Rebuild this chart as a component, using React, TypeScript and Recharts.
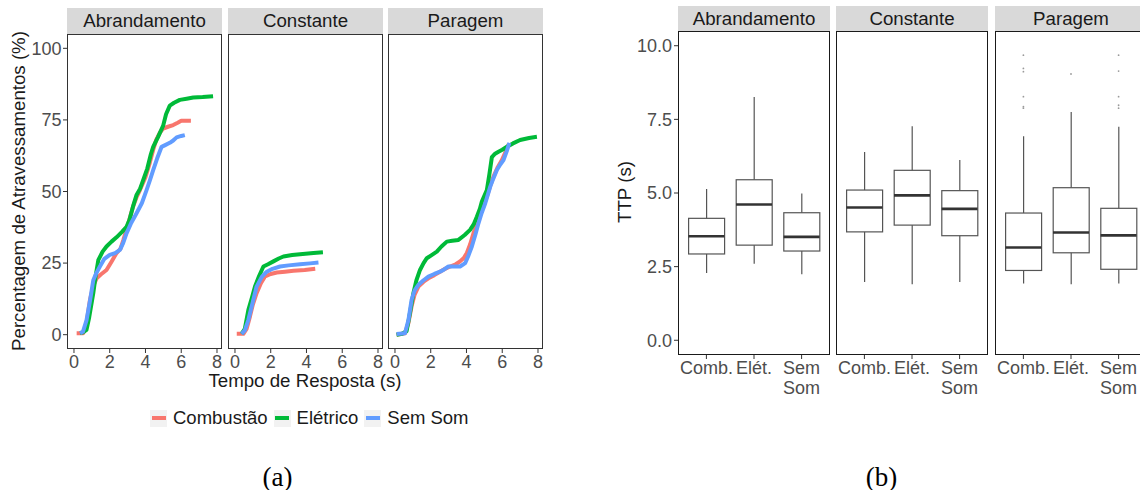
import React from 'react'
import { LineChart, Line, XAxis, YAxis, ComposedChart, Bar, Scatter } from 'recharts'

// facetas e séries
const FACETS = ['Abrandamento', 'Constante', 'Paragem']
const SERIES = ['Combustão', 'Elétrico', 'Sem Som']
const SERIES_COLORS = ['#F8766D', '#00BA38', '#619CFF']
const X_TICKS = [0, 2, 4, 6, 8]
const PCT_TICKS = [0, 25, 50, 75, 100]
const TTP_TICKS = [0, 2.5, 5, 7.5, 10]
const BOX_CATS = ['Comb.', 'Elét.', 'Sem\nSom']

// (a) curvas acumuladas: [tempo (s), percentagem (%)]
const abrCombustao = [[0.15, 0.5], [0.52, 0.5], [0.7, 4], [0.89, 12], [1.08, 17], [1.27, 19.7], [1.5, 21], [1.82, 22.6], [2.1, 25.5], [2.38, 28.5], [2.6, 30], [2.76, 33], [3.0, 38], [3.3, 44.7], [3.5, 48], [3.69, 50.5], [4.0, 55], [4.24, 60], [4.45, 65], [4.6, 68], [4.8, 70.5], [4.99, 72], [5.3, 72.7], [5.55, 73.2], [5.8, 74], [6.0, 74.7], [6.54, 74.7]]
const abrEletrico = [[0.34, 0.6], [0.5, 0.8], [0.7, 1.7], [0.85, 6], [1.08, 14.5], [1.2, 20], [1.36, 26], [1.6, 29], [1.82, 30.8], [2.1, 32.5], [2.38, 34], [2.7, 36], [2.94, 37.7], [3.1, 40], [3.3, 44.7], [3.5, 48.8], [3.7, 51], [3.87, 54], [4.1, 58], [4.3, 63], [4.43, 65.6], [4.7, 69], [4.99, 73], [5.15, 77], [5.36, 80], [5.6, 81], [5.92, 82], [6.3, 82.4], [6.67, 82.8], [7.2, 83], [7.78, 83.3]]
const abrSemSom = [[0.34, 0.5], [0.5, 1], [0.7, 5], [0.9, 12], [1.08, 19], [1.25, 21.5], [1.45, 23.8], [1.7, 26.5], [2.0, 27.9], [2.3, 28.5], [2.57, 29.6], [2.75, 32], [2.94, 35.4], [3.2, 39], [3.5, 42.4], [3.8, 46], [4.06, 50.5], [4.25, 54], [4.43, 57.5], [4.65, 61.5], [4.9, 65.6], [5.1, 66.2], [5.36, 67], [5.55, 67.8], [5.74, 68.9], [6.0, 69.4], [6.2, 69.7]]

const conCombustao = [[0.1, 0.3], [0.47, 0.3], [0.65, 2], [0.84, 6.4], [1.0, 10.5], [1.21, 14.5], [1.45, 18], [1.68, 20.3], [2.0, 21.2], [2.34, 21.7], [2.8, 22], [3.27, 22.3], [3.9, 22.6], [4.49, 23]]
const conEletrico = [[0.37, 0.3], [0.55, 2], [0.75, 8.7], [0.95, 13], [1.12, 16.8], [1.35, 20.5], [1.59, 23.8], [1.85, 24.6], [2.15, 25.6], [2.45, 26.6], [2.71, 27.3], [3.2, 27.8], [3.64, 28.1], [4.39, 28.5], [4.92, 28.8]]
const conSemSom = [[0.37, 0.3], [0.55, 1.5], [0.75, 5.2], [1.0, 11.5], [1.21, 16.8], [1.5, 20.2], [1.78, 22], [2.1, 23], [2.52, 23.8], [3.0, 24.2], [3.64, 24.6], [4.2, 24.9], [4.67, 25.2]]

const parCombustao = [[0.09, 0], [0.56, 0.5], [0.75, 4], [0.93, 9.9], [1.1, 14], [1.31, 16.8], [1.6, 18.5], [1.87, 19.7], [2.2, 20.8], [2.52, 22], [2.8, 23], [3.08, 23.8], [3.4, 24.6], [3.64, 25.6], [3.85, 26.8], [4.02, 28.5], [4.2, 31.5], [4.39, 35.4], [4.6, 39], [4.77, 42.4], [4.95, 45.5], [5.14, 48.2], [5.33, 52], [5.51, 55.2], [5.75, 58.5], [5.98, 61], [6.2, 64], [6.36, 66.5]]
const parEletrico = [[0.09, 0], [0.4, 0.3], [0.65, 1.2], [0.85, 8], [1.03, 14.5], [1.2, 19], [1.4, 22.6], [1.6, 25], [1.78, 26.7], [2.05, 27.8], [2.34, 29], [2.6, 30.8], [2.9, 32.5], [3.2, 32.8], [3.55, 33.1], [3.9, 34.8], [4.2, 36.6], [4.4, 38.5], [4.58, 41.2], [4.75, 44], [4.86, 46.5], [5.0, 48.5], [5.14, 50.5], [5.28, 56], [5.42, 62], [5.6, 63.2], [5.79, 63.9], [6.0, 64.6], [6.26, 65.6], [6.6, 66.8], [7.0, 68], [7.5, 68.7], [7.94, 69.1]]
const parSemSom = [[0.09, 0.2], [0.56, 0.5], [0.75, 5], [0.93, 12.2], [1.1, 15.5], [1.31, 17.4], [1.6, 19], [1.87, 20.3], [2.2, 21.2], [2.52, 22], [2.75, 22.8], [2.99, 23.8], [3.3, 23.8], [3.64, 23.8], [3.93, 25], [4.1, 27.5], [4.3, 30.8], [4.5, 35], [4.67, 38.9], [4.85, 42.5], [5.05, 45.9], [5.2, 49], [5.33, 51.7], [5.5, 54.5], [5.7, 57.5], [5.9, 59.5], [6.07, 61], [6.25, 64], [6.4, 67]]

const CURVES = [
  [abrCombustao, abrEletrico, abrSemSom],
  [conCombustao, conEletrico, conSemSom],
  [parCombustao, parEletrico, parSemSom],
]

// (b) caixas de TTP (s), por faceta: [Comb., Elét., Sem Som]
const ttpMin = [[2.28, 2.6, 2.24], [1.98, 1.9, 1.98], [1.93, 1.9, 1.93]]
const ttpQ1 = [[2.93, 3.23, 3.03], [3.68, 3.91, 3.55], [2.37, 2.97, 2.41]]
const ttpMedian = [[3.53, 4.61, 3.51], [4.51, 4.92, 4.46], [3.15, 3.66, 3.56]]
const ttpQ3 = [[4.14, 5.45, 4.33], [5.1, 5.77, 5.08], [4.32, 5.18, 4.48]]
const ttpMax = [[5.14, 8.26, 4.98], [6.39, 7.27, 6.12], [6.93, 7.75, 7.25]]
const ttpOutliers = [
  [[], [], []],
  [[], [], []],
  [[7.88, 7.93, 8.27, 9.12, 9.23, 9.68], [9.04], [7.88, 7.98, 8.27, 9.14, 9.68]],
]

const FONT = '"Liberation Sans", Arial, sans-serif'
const TICK_COLOR = '#4D4D4D'

// layout (a)
const A_X = [67, 228, 388]
const A_W = 155
const A_TOP = 34
const A_H = 315
// layout (b)
const B_X = [678, 836, 995]
const B_W = 152
const B_TOP = 31
const B_H = 324

const toPoints = (pairs: number[][]) => pairs.map(([t, p]) => ({ t, p }))

function Strip({ x, top, w, h, label }: { x: number; top: number; w: number; h: number; label: string }) {
  return (
    <div
      style={{
        position: 'absolute', left: x, top, width: w, height: h, background: '#D9D9D9',
        color: '#1A1A1A', fontSize: 18.7, lineHeight: `${h}px`, textAlign: 'center', whiteSpace: 'nowrap',
      }}
    >
      {label}
    </div>
  )
}

function Border({ x, top, w, h, color, bw }: { x: number; top: number; w: number; h: number; color: string; bw: number }) {
  return (
    <div
      style={{
        position: 'absolute', left: x, top, width: w, height: h, boxSizing: 'border-box',
        border: `${bw}px solid ${color}`, pointerEvents: 'none',
      }}
    />
  )
}

function CurveFacet({ idx }: { idx: number }) {
  const showY = idx === 0
  const yW = showY ? 67 : 0
  return (
    <div style={{ position: 'absolute', left: A_X[idx] - yW, top: A_TOP }}>
      <LineChart width={yW + A_W} height={A_H + 40} margin={{ top: 0, right: 0, bottom: 0, left: 0 }}>
        <XAxis
          type="number" dataKey="t" domain={[-0.39, 8.28]} ticks={X_TICKS} interval={0} allowDataOverflow
          axisLine={false} tickLine={{ stroke: '#333333' }} tickSize={4} tickMargin={2}
          tick={{ fill: TICK_COLOR, fontSize: 18 }} height={40}
        />
        <YAxis
          type="number" domain={[-5, 105]} ticks={PCT_TICKS} interval={0} allowDataOverflow hide={!showY}
          width={yW} axisLine={false} tickLine={{ stroke: '#333333' }} tickSize={4} tickMargin={1.5}
          tick={{ fill: TICK_COLOR, fontSize: 18 }}
        />
        {SERIES.map((s, i) => (
          <Line
            key={s} name={s} data={toPoints(CURVES[idx][i])} dataKey="p" type="linear"
            stroke={SERIES_COLORS[i]} strokeWidth={4} dot={false} isAnimationActive={false}
            strokeLinejoin="round"
          />
        ))}
      </LineChart>
    </div>
  )
}

function CatTick(props: any) {
  const { x, y, payload } = props
  const lines = String(payload.value).split('\n')
  return (
    <text x={x} y={y} textAnchor="middle" fill={TICK_COLOR} fontSize={18}>
      {lines.map((l, i) => (
        <tspan key={i} x={x} dy={i === 0 ? '0.71em' : '1.1em'}>{l}</tspan>
      ))}
    </text>
  )
}

const WhiskerShape = (p: any) => {
  const cx = p.x + p.width / 2
  const y1 = Math.min(p.y, p.y + p.height)
  const y2 = Math.max(p.y, p.y + p.height)
  return <line x1={cx} x2={cx} y1={y1} y2={y2} stroke="#555555" strokeWidth={1.2} />
}

const BoxShape = (p: any) => {
  const y1 = Math.min(p.y, p.y + p.height)
  const h = Math.abs(p.height)
  return <rect x={p.x} y={y1} width={p.width} height={h} fill="#FFFFFF" stroke="#555555" strokeWidth={1.2} />
}

const MedianShape = (p: any) => (
  <line x1={p.cx - 18} x2={p.cx + 18} y1={p.cy} y2={p.cy} stroke="#333333" strokeWidth={2.6} />
)

const OutlierShape = (p: any) => <circle cx={p.cx} cy={p.cy} r={0.9} fill="#9A9A9A" />

function BoxFacet({ idx }: { idx: number }) {
  const showY = idx === 0
  const yW = showY ? 78 : 0
  const rows = BOX_CATS.map((cat, i) => ({
    cat,
    lo: ttpMin[idx][i],
    q1: ttpQ1[idx][i],
    med: ttpMedian[idx][i],
    q3: ttpQ3[idx][i],
    hi: ttpMax[idx][i],
  }))
  const outs = ttpOutliers[idx].flatMap((vals, i) => vals.map((v) => ({ cat: BOX_CATS[i], v })))
  const pad = { left: 4.6, right: 4.6 }
  return (
    <div style={{ position: 'absolute', left: B_X[idx] - yW, top: B_TOP }}>
      <ComposedChart width={yW + B_W} height={B_H + 50} data={rows} margin={{ top: 0, right: 0, bottom: 0, left: 0 }}>
        <XAxis xAxisId="w" dataKey="cat" type="category" hide padding={pad} allowDuplicatedCategory={false} />
        <XAxis
          xAxisId="b" dataKey="cat" type="category" padding={pad} allowDuplicatedCategory={false} interval={0}
          axisLine={false} tickLine={{ stroke: '#333333' }} tickSize={4} tickMargin={2} tick={<CatTick />} height={50}
        />
        <YAxis
          type="number" domain={[-0.5, 10.5]} ticks={TTP_TICKS} interval={0} allowDataOverflow hide={!showY}
          width={yW} axisLine={false} tickLine={{ stroke: '#333333' }} tickSize={4} tickMargin={2}
          tick={{ fill: TICK_COLOR, fontSize: 18 }} tickFormatter={(v: number) => v.toFixed(1)}
        />
        <Bar xAxisId="w" dataKey={(d: any) => [d.lo, d.hi]} barSize={36} shape={WhiskerShape} isAnimationActive={false} />
        <Bar xAxisId="b" dataKey={(d: any) => [d.q1, d.q3]} barSize={36} shape={BoxShape} isAnimationActive={false} />
        <Scatter xAxisId="b" dataKey="med" shape={MedianShape} isAnimationActive={false} />
        <Scatter xAxisId="b" data={outs} dataKey="v" shape={OutlierShape} isAnimationActive={false} />
      </ComposedChart>
    </div>
  )
}

function Centered({ x, y, children, style }: { x: number; y: number; children: React.ReactNode; style?: React.CSSProperties }) {
  return (
    <div
      style={{
        position: 'absolute', left: x, top: y, transform: 'translate(-50%, -50%)', whiteSpace: 'nowrap',
        lineHeight: 1, ...style,
      }}
    >
      {children}
    </div>
  )
}

export default function App() {
  return (
    <div
      style={{
        position: 'absolute', left: 0, top: 0, width: 1140, height: 490, overflow: 'hidden',
        background: '#FFFFFF', fontFamily: FONT,
      }}
    >
      {/* (a) */}
      {FACETS.map((f, i) => (
        <Strip key={f} x={A_X[i]} top={8} w={A_W} h={26} label={f} />
      ))}
      {FACETS.map((f, i) => (
        <CurveFacet key={f} idx={i} />
      ))}
      {FACETS.map((f, i) => (
        <Border key={f} x={A_X[i]} top={A_TOP} w={A_W} h={A_H} color="#333333" bw={1.3} />
      ))}
      <Centered x={19} y={191} style={{ fontSize: 18.7, color: '#1A1A1A', transform: 'translate(-50%, -50%) rotate(-90deg)' }}>
        Percentagem de Atravessamentos (%)
      </Centered>
      <Centered x={305} y={381} style={{ fontSize: 18.7, color: '#1A1A1A' }}>
        Tempo de Resposta (s)
      </Centered>
      <div
        style={{
          position: 'absolute', left: 150, top: 409, height: 18, display: 'flex', alignItems: 'center',
          fontSize: 18.5, color: '#1A1A1A', whiteSpace: 'nowrap',
        }}
      >
        {SERIES.map((s, i) => (
          <div key={s} style={{ display: 'flex', alignItems: 'center', marginRight: 6 }}>
            <div
              style={{
                width: 17, height: 17, background: '#F2F2F2', display: 'flex', alignItems: 'center',
                justifyContent: 'center', marginRight: 6,
              }}
            >
              <div style={{ width: 14, height: 4, background: SERIES_COLORS[i] }} />
            </div>
            <span>{s}</span>
          </div>
        ))}
      </div>
      <Centered x={277.5} y={477} style={{ fontFamily: '"Liberation Serif", "Times New Roman", serif', fontSize: 27, color: '#000' }}>
        (a)
      </Centered>

      {/* (b) */}
      {FACETS.map((f, i) => (
        <Strip key={f} x={B_X[i]} top={6} w={B_W} h={25} label={f} />
      ))}
      {FACETS.map((f, i) => (
        <BoxFacet key={f} idx={i} />
      ))}
      {FACETS.map((f, i) => (
        <Border key={f} x={B_X[i]} top={B_TOP} w={B_W} h={B_H} color="#1A1A1A" bw={1.5} />
      ))}
      <Centered x={625} y={192} style={{ fontSize: 18.7, color: '#1A1A1A', transform: 'translate(-50%, -50%) rotate(-90deg)' }}>
        TTP (s)
      </Centered>
      <Centered x={881.5} y={477} style={{ fontFamily: '"Liberation Serif", "Times New Roman", serif', fontSize: 27, color: '#000' }}>
        (b)
      </Centered>
    </div>
  )
}
